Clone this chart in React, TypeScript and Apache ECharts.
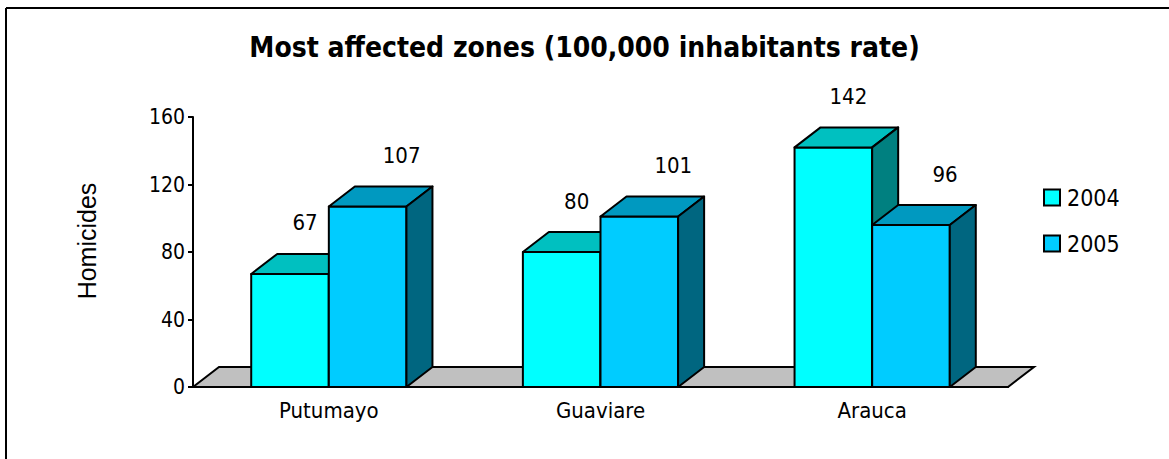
import React, { useEffect, useRef } from "react";
import * as echarts from "echarts";

const categories = ["Putumayo", "Guaviare", "Arauca"];
const seriesNames = ["2004", "2005"];
const values2004 = [67, 80, 142];
const values2005 = [107, 101, 96];
const yMin = 0;
const yMax = 160;
const yInterval = 40;

const FONT = "'DejaVu Sans Condensed', 'DejaVu Sans', sans-serif";
const DX = 26;
const DY = -20;

type Palette = { front: string; top: string; side: string };
const palettes: Palette[] = [
  { front: "#00FFFF", top: "#00C0C0", side: "#008080" },
  { front: "#00CCFF", top: "#0099C0", side: "#006680" },
];
const labelDx = [15, 34];

function makeRender(idx: number) {
  const pal = palettes[idx];
  return (params: any, api: any) => {
    const cat = api.value(0);
    const val = api.value(1);
    const base = api.coord([cat, 0]);
    const topPt = api.coord([cat, val]);
    const band = api.size([1, 0])[0];
    const bw = band / 3.5;
    const x0 = base[0] - bw + idx * bw;
    const x1 = x0 + bw;
    const by = base[1];
    const ty = topPt[1];
    const stroke = { stroke: "#000", lineWidth: 2, lineJoin: "round" };
    return {
      type: "group",
      children: [
        {
          type: "rect",
          shape: { x: x0, y: ty, width: bw, height: by - ty },
          style: { fill: pal.front, ...stroke },
        },
        {
          type: "polygon",
          shape: {
            points: [
              [x0, ty],
              [x0 + DX, ty + DY],
              [x1 + DX, ty + DY],
              [x1, ty],
            ],
          },
          style: { fill: pal.top, ...stroke },
        },
        {
          type: "polygon",
          shape: {
            points: [
              [x1, ty],
              [x1 + DX, ty + DY],
              [x1 + DX, by + DY],
              [x1, by],
            ],
          },
          style: { fill: pal.side, ...stroke },
        },
        {
          type: "text",
          x: (x0 + x1) / 2 + labelDx[idx],
          y: ty - 51,
          style: {
            text: String(val),
            fill: "#000",
            font: `22px ${FONT}`,
            align: "center",
            verticalAlign: "middle",
          },
        },
      ],
    };
  };
}

function floorRender(params: any, api: any) {
  const cs = params.coordSys;
  const by = cs.y + cs.height;
  const x0 = cs.x;
  const x1 = cs.x + cs.width;
  return {
    type: "polygon",
    shape: {
      points: [
        [x0, by],
        [x0 + DX, by + DY],
        [x1 + DX, by + DY],
        [x1, by],
      ],
    },
    style: { fill: "#C0C0C0", stroke: "#000", lineWidth: 2 },
  };
}

export default function App() {
  const ref = useRef<HTMLDivElement>(null);
  useEffect(() => {
    if (!ref.current) return;
    const chart = echarts.init(ref.current, undefined, { renderer: "svg" });
    const seriesValues = [values2004, values2005];
    chart.setOption({
      animation: false,
      backgroundColor: "#fff",
      title: {
        text: "Most affected zones (100,000 inhabitants rate)",
        left: "center",
        top: 28,
        textStyle: {
          fontFamily: FONT,
          fontWeight: "bold",
          fontSize: 28,
          color: "#000",
        },
      },
      legend: {
        data: seriesNames,
        orient: "vertical",
        left: 1038,
        top: 181,
        itemWidth: 16,
        itemHeight: 16,
        itemGap: 23,
        icon: "rect",
        itemStyle: { borderColor: "#000", borderWidth: 2 },
        textStyle: { fontFamily: FONT, fontSize: 23, color: "#000", padding: [0, 0, 0, 2] },
      },
      grid: { left: 193, right: 161, top: 117, bottom: 72 },
      xAxis: {
        type: "category",
        data: categories,
        axisLine: { lineStyle: { color: "#000", width: 2 } },
        axisTick: { length: 5, lineStyle: { color: "#000", width: 2 } },
        axisLabel: { fontFamily: FONT, fontSize: 22, color: "#000", margin: 12 },
      },
      yAxis: {
        type: "value",
        min: yMin,
        max: yMax,
        interval: yInterval,
        axisLine: { show: true, lineStyle: { color: "#000", width: 2 } },
        axisTick: { show: true, length: 5, lineStyle: { color: "#000", width: 2 } },
        axisLabel: { fontFamily: FONT, fontSize: 21, color: "#000", margin: 8 },
        splitLine: { show: false },
      },
      graphic: [
        {
          type: "line",
          shape: { x1: 6, y1: 8, x2: 1169, y2: 8 },
          style: { stroke: "#000", lineWidth: 2 },
        },
        {
          type: "line",
          shape: { x1: 6, y1: 8, x2: 6, y2: 459 },
          style: { stroke: "#000", lineWidth: 2 },
        },
        {
          type: "text",
          x: 87,
          y: 241,
          rotation: Math.PI / 2,
          style: {
            text: "Homicides",
            fill: "#000",
            font: "25px 'Liberation Sans', Arial, sans-serif",
            align: "center",
            verticalAlign: "middle",
          },
        },
      ],
      series: [
        {
          type: "custom",
          name: "floor",
          silent: true,
          clip: false,
          data: [[0, 0]],
          encode: { x: 0, y: 1 },
          renderItem: floorRender,
        },
        ...seriesNames.map((name, idx) => ({
          type: "custom",
          name,
          clip: false,
          itemStyle: { color: palettes[idx].front },
          data: categories.map((_, i) => [i, seriesValues[idx][i]]),
          encode: { x: 0, y: 1 },
          renderItem: makeRender(idx),
        })),
      ],
    });
    return () => chart.dispose();
  }, []);
  return (
    <div
      ref={ref}
      style={{ position: "absolute", left: 0, top: 0, width: 1169, height: 459 }}
    />
  );
}
